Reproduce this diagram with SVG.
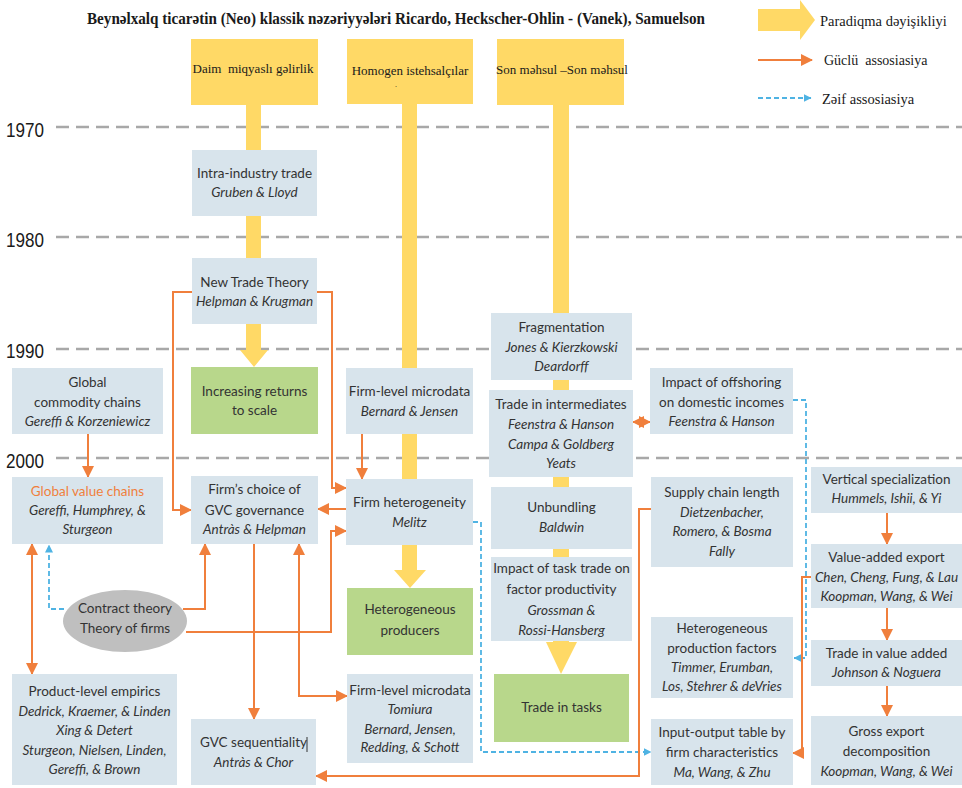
<svg xmlns="http://www.w3.org/2000/svg" width="962" height="788" viewBox="0 0 962 788">
  <style>
    .bg { fill: #ffffff; }
    .grid { stroke: #a8a8a8; stroke-width: 2.5; stroke-dasharray: 13 7; fill: none; }
    .year { font-family: "Liberation Sans", Arial, sans-serif; font-size: 20px; fill: #1a1a1a; }
    .title { font-family: "Liberation Serif", "Times New Roman", serif; font-size: 17px; font-weight: bold; fill: #1a1a1a; }
    .serif { font-family: "Liberation Serif", "Times New Roman", serif; fill: #1a1a1a; }
    .para { fill: #ffd966; }
    .box { fill: #d8e4ec; }
    .green { fill: #b8d78b; }
    .oval { fill: #bfbfbf; }
    .t { font-family: Lato, "Open Sans", sans-serif; font-size: 13.5px; fill: #333333; text-anchor: middle; }
    .i { font-style: italic; }
    .hl { fill: #f07f3c; }
    .strong { stroke: #f07f3c; stroke-width: 2; fill: none; }
    .weak { stroke: #4fb3e3; stroke-width: 1.8; fill: none; stroke-dasharray: 5 3; }
  </style>
  <defs>
    <marker id="oa" markerUnits="userSpaceOnUse" markerWidth="12" markerHeight="12" viewBox="0 0 12 12" refX="11" refY="6" orient="auto-start-reverse">
      <path d="M0,0 L12,6 L0,12 Z" fill="#f07f3c"/>
    </marker>
    <marker id="ba" markerUnits="userSpaceOnUse" markerWidth="8" markerHeight="8" viewBox="0 0 8 8" refX="7.5" refY="4" orient="auto-start-reverse">
      <path d="M0,0 L8,4 L0,8 Z" fill="#4fb3e3"/>
    </marker>
  </defs>

  <rect class="bg" x="0" y="0" width="962" height="788"/>

  <!-- title and legend -->
  <text class="title" x="87" y="24" textLength="618" lengthAdjust="spacingAndGlyphs">Beynəlxalq ticarətin (Neo) klassik nəzəriyyələri Ricardo, Heckscher-Ohlin - (Vanek), Samuelson</text>
  <g id="legend">
    <polygon class="para" points="758,9 800,9 800,0 815,20 800,40 800,31 758,31"/>
    <text class="serif" x="820" y="26" font-size="14.5">Paradiqma dəyişikliyi</text>
    <line class="strong" x1="758" y1="60" x2="812" y2="60" marker-end="url(#oa)"/>
    <text class="serif" x="824" y="65" font-size="14">Güclü&#160; assosiasiya</text>
    <line class="weak" x1="758" y1="98" x2="811" y2="98" marker-end="url(#ba)"/>
    <text class="serif" x="822" y="104" font-size="14.5">Zəif assosiasiya</text>
  </g>

  <!-- decade grid -->
  <g id="timeline">
    <line class="grid" x1="56" y1="127" x2="962" y2="127"/>
    <line class="grid" x1="56" y1="237" x2="962" y2="237"/>
    <line class="grid" x1="56" y1="349" x2="962" y2="349"/>
    <line class="grid" x1="56" y1="458" x2="962" y2="458"/>
    <text class="year" x="6" y="137" textLength="38" lengthAdjust="spacingAndGlyphs">1970</text>
    <text class="year" x="6" y="247" textLength="38" lengthAdjust="spacingAndGlyphs">1980</text>
    <text class="year" x="6" y="358" textLength="38" lengthAdjust="spacingAndGlyphs">1990</text>
    <text class="year" x="6" y="468" textLength="38" lengthAdjust="spacingAndGlyphs">2000</text>
  </g>

  <!-- paradigm shafts -->
  <g id="paradigm-shafts">
    <polygon class="para" points="246,100 261,100 261,350 268,350 254,367 240,350 246,350"/>
    <polygon class="para" points="402,100 417,100 417,570 426,570 410,588 394,570 402,570"/>
    <polygon class="para" points="553,100 569,100 569,642 577,642 561,674 546,642 553,642"/>
  </g>

  <!-- paradigm heads -->
  <g id="n-daim">
    <rect class="para" x="191" y="39" width="127" height="66"/>
    <text class="serif" x="253" y="73" font-size="13" text-anchor="middle">Daim&#160; miqyaslı gəlirlik</text>
  </g>
  <g id="n-homogen">
    <rect class="para" x="347" y="39" width="126" height="65"/>
    <text class="serif" x="410" y="75" font-size="13" text-anchor="middle">Homogen istehsalçılar</text>
    <text class="serif" x="395" y="87" font-size="8">.</text>
  </g>
  <g id="n-son">
    <rect class="para" x="497" y="39" width="127" height="66"/>
    <text class="serif" x="562" y="74" font-size="13" text-anchor="middle">Son məhsul –Son məhsul</text>
  </g>

  <!-- connectors -->
  <g id="connectors">
    <path class="strong" d="M192,292 H173 V510 H191" marker-end="url(#oa)"/>
    <path class="strong" d="M317,292 H332 V488 H346" marker-end="url(#oa)"/>
    <path class="strong" d="M362,434 V479" marker-end="url(#oa)"/>
    <path class="strong" d="M346,509 H318" marker-end="url(#oa)"/>
    <path class="strong" d="M183,609 H205 V544" marker-end="url(#oa)"/>
    <path class="strong" d="M186,632 H331 V531 H346" marker-end="url(#oa)"/>
    <path class="strong" d="M254,544 V719" marker-end="url(#oa)"/>
    <path class="strong" d="M299,544 V696 H347" marker-start="url(#oa)" marker-end="url(#oa)"/>
    <path class="strong" d="M88,434 V477" marker-end="url(#oa)"/>
    <path class="strong" d="M32,544 V674" marker-start="url(#oa)" marker-end="url(#oa)"/>
    <path class="weak" d="M64,609 H49 V545" marker-end="url(#ba)"/>
    <path class="strong" d="M633,422 H650" marker-start="url(#oa)" marker-end="url(#oa)"/>
    <path class="weak" d="M793,400 H806 V658 H794" marker-end="url(#ba)"/>
    <path class="weak" d="M473,522 H481 V752 H651" marker-end="url(#ba)"/>
    <path class="strong" d="M651,509 H639 V776 H316" marker-end="url(#oa)"/>
    <path class="strong" d="M811,577 H802 V753 H793" marker-end="url(#oa)"/>
    <path class="strong" d="M887,513 V544" marker-end="url(#oa)"/>
    <path class="strong" d="M887,608 V640" marker-end="url(#oa)"/>
    <path class="strong" d="M887,686 V716" marker-end="url(#oa)"/>
  </g>

  <!-- literature nodes -->
  <g id="n-intra">
    <rect class="box" x="192" y="150" width="125" height="66"/>
    <text class="t" x="254.5" y="178">Intra-industry trade</text>
    <text class="t i" x="254.5" y="197">Gruben &amp; Lloyd</text>
  </g>
  <g id="n-ntt">
    <rect class="box" x="192" y="258" width="125" height="66"/>
    <text class="t" x="254.5" y="287">New Trade Theory</text>
    <text class="t i" x="254.5" y="306">Helpman &amp; Krugman</text>
  </g>
  <g id="n-irs">
    <rect class="green" x="191" y="367" width="127" height="67"/>
    <text class="t" x="254.5" y="396">Increasing returns</text>
    <text class="t" x="254.5" y="415">to scale</text>
  </g>
  <g id="n-gcc">
    <rect class="box" x="12" y="368" width="151" height="66"/>
    <text class="t" x="87.5" y="387">Global</text>
    <text class="t" x="87.5" y="407">commodity chains</text>
    <text class="t i" x="87.5" y="426">Gereffi &amp; Korzeniewicz</text>
  </g>
  <g id="n-gvc">
    <rect class="box" x="12" y="477" width="151" height="67"/>
    <text class="t hl" x="87.5" y="496">Global value chains</text>
    <text class="t i" x="87.5" y="515">Gereffi, Humphrey, &amp;</text>
    <text class="t i" x="87.5" y="534">Sturgeon</text>
  </g>
  <g id="n-choice">
    <rect class="box" x="191" y="476" width="127" height="68"/>
    <text class="t" x="254.5" y="494">Firm’s choice of</text>
    <text class="t" x="254.5" y="515">GVC governance</text>
    <text class="t i" x="254.5" y="534">Antràs &amp; Helpman</text>
  </g>
  <g id="n-micro1">
    <rect class="box" x="346" y="368" width="127" height="66"/>
    <text class="t" x="409.5" y="396">Firm-level microdata</text>
    <text class="t i" x="409.5" y="416">Bernard &amp; Jensen</text>
  </g>
  <g id="n-het">
    <rect class="box" x="346" y="479" width="127" height="66"/>
    <text class="t" x="409.5" y="507">Firm heterogeneity</text>
    <text class="t i" x="409.5" y="527">Melitz</text>
  </g>
  <g id="n-hetprod">
    <rect class="green" x="347" y="588" width="126" height="67"/>
    <text class="t" x="410" y="614">Heterogeneous</text>
    <text class="t" x="410" y="635">producers</text>
  </g>
  <g id="n-micro2">
    <rect class="box" x="347" y="674" width="126" height="89"/>
    <text class="t" x="410" y="695">Firm-level microdata</text>
    <text class="t i" x="410" y="714">Tomiura</text>
    <text class="t i" x="410" y="734">Bernard, Jensen,</text>
    <text class="t i" x="410" y="752">Redding, &amp; Schott</text>
  </g>
  <g id="n-seq">
    <rect class="box" x="191" y="719" width="125" height="66"/>
    <text class="t" x="253.5" y="747">GVC sequentiality</text>
    <line x1="307" y1="737" x2="307" y2="752" stroke="#333333" stroke-width="1"/>
    <text class="t i" x="253.5" y="767">Antràs &amp; Chor</text>
  </g>
  <g id="n-product">
    <rect class="box" x="12" y="674" width="165" height="111"/>
    <text class="t" x="94.5" y="696">Product-level empirics</text>
    <text class="t i" x="94.5" y="716">Dedrick, Kraemer, &amp; Linden</text>
    <text class="t i" x="94.5" y="735">Xing &amp; Detert</text>
    <text class="t i" x="94.5" y="755">Sturgeon, Nielsen, Linden,</text>
    <text class="t i" x="94.5" y="774">Gereffi, &amp; Brown</text>
  </g>
  <g id="n-contract">
    <ellipse class="oval" cx="125" cy="621" rx="62" ry="31"/>
    <text class="t" x="125" y="613">Contract theory</text>
    <text class="t" x="125" y="633">Theory of firms</text>
  </g>
  <g id="n-frag">
    <rect class="box" x="491" y="313" width="141" height="67"/>
    <text class="t" x="561.5" y="332">Fragmentation</text>
    <text class="t i" x="561.5" y="352">Jones &amp; Kierzkowski</text>
    <text class="t i" x="561.5" y="371">Deardorff</text>
  </g>
  <g id="n-inter">
    <rect class="box" x="489" y="390" width="144" height="87"/>
    <text class="t" x="561" y="409">Trade in intermediates</text>
    <text class="t i" x="561" y="429">Feenstra &amp; Hanson</text>
    <text class="t i" x="561" y="449">Campa &amp; Goldberg</text>
    <text class="t i" x="561" y="468">Yeats</text>
  </g>
  <g id="n-unb">
    <rect class="box" x="491" y="487" width="141" height="62"/>
    <text class="t" x="561.5" y="512">Unbundling</text>
    <text class="t i" x="561.5" y="532">Baldwin</text>
  </g>
  <g id="n-taskimp">
    <rect class="box" x="491" y="557" width="141" height="84"/>
    <text class="t" x="561.5" y="573">Impact of task trade on</text>
    <text class="t" x="561.5" y="594">factor productivity</text>
    <text class="t i" x="561.5" y="615">Grossman &amp;</text>
    <text class="t i" x="561.5" y="635">Rossi-Hansberg</text>
  </g>
  <g id="n-tasks">
    <rect class="green" x="494" y="674" width="135" height="68"/>
    <text class="t" x="561.5" y="712">Trade in tasks</text>
  </g>
  <g id="n-offsh">
    <rect class="box" x="650" y="368" width="143" height="66"/>
    <text class="t" x="721.5" y="387">Impact of offshoring</text>
    <text class="t" x="721.5" y="407">on domestic incomes</text>
    <text class="t i" x="721.5" y="426">Feenstra &amp; Hanson</text>
  </g>
  <g id="n-supply">
    <rect class="box" x="651" y="477" width="142" height="90"/>
    <text class="t" x="722" y="497">Supply chain length</text>
    <text class="t i" x="722" y="517">Dietzenbacher,</text>
    <text class="t i" x="722" y="536">Romero, &amp; Bosma</text>
    <text class="t i" x="722" y="556">Fally</text>
  </g>
  <g id="n-hpf">
    <rect class="box" x="651" y="617" width="142" height="81"/>
    <text class="t" x="722" y="633">Heterogeneous</text>
    <text class="t" x="722" y="653">production factors</text>
    <text class="t i" x="722" y="672">Timmer, Erumban,</text>
    <text class="t i" x="722" y="691">Los, Stehrer &amp; deVries</text>
  </g>
  <g id="n-io">
    <rect class="box" x="651" y="719" width="142" height="66"/>
    <text class="t" x="722" y="737">Input-output table by</text>
    <text class="t" x="722" y="757">firm characteristics</text>
    <text class="t i" x="722" y="777">Ma, Wang, &amp; Zhu</text>
  </g>
  <g id="n-vs">
    <rect class="box" x="811" y="467" width="151" height="46"/>
    <text class="t" x="886.5" y="484">Vertical specialization</text>
    <text class="t i" x="886.5" y="503">Hummels, Ishii, &amp; Yi</text>
  </g>
  <g id="n-vax">
    <rect class="box" x="811" y="544" width="151" height="64"/>
    <text class="t" x="886.5" y="562">Value-added export</text>
    <text class="t i" x="886.5" y="582">Chen, Cheng, Fung, &amp; Lau</text>
    <text class="t i" x="886.5" y="601">Koopman, Wang, &amp; Wei</text>
  </g>
  <g id="n-tiva">
    <rect class="box" x="811" y="640" width="151" height="46"/>
    <text class="t" x="886.5" y="658">Trade in value added</text>
    <text class="t i" x="886.5" y="677">Johnson &amp; Noguera</text>
  </g>
  <g id="n-gross">
    <rect class="box" x="811" y="716" width="151" height="69"/>
    <text class="t" x="886.5" y="736">Gross export</text>
    <text class="t" x="886.5" y="756">decomposition</text>
    <text class="t i" x="886.5" y="776">Koopman, Wang, &amp; Wei</text>
  </g>
</svg>
